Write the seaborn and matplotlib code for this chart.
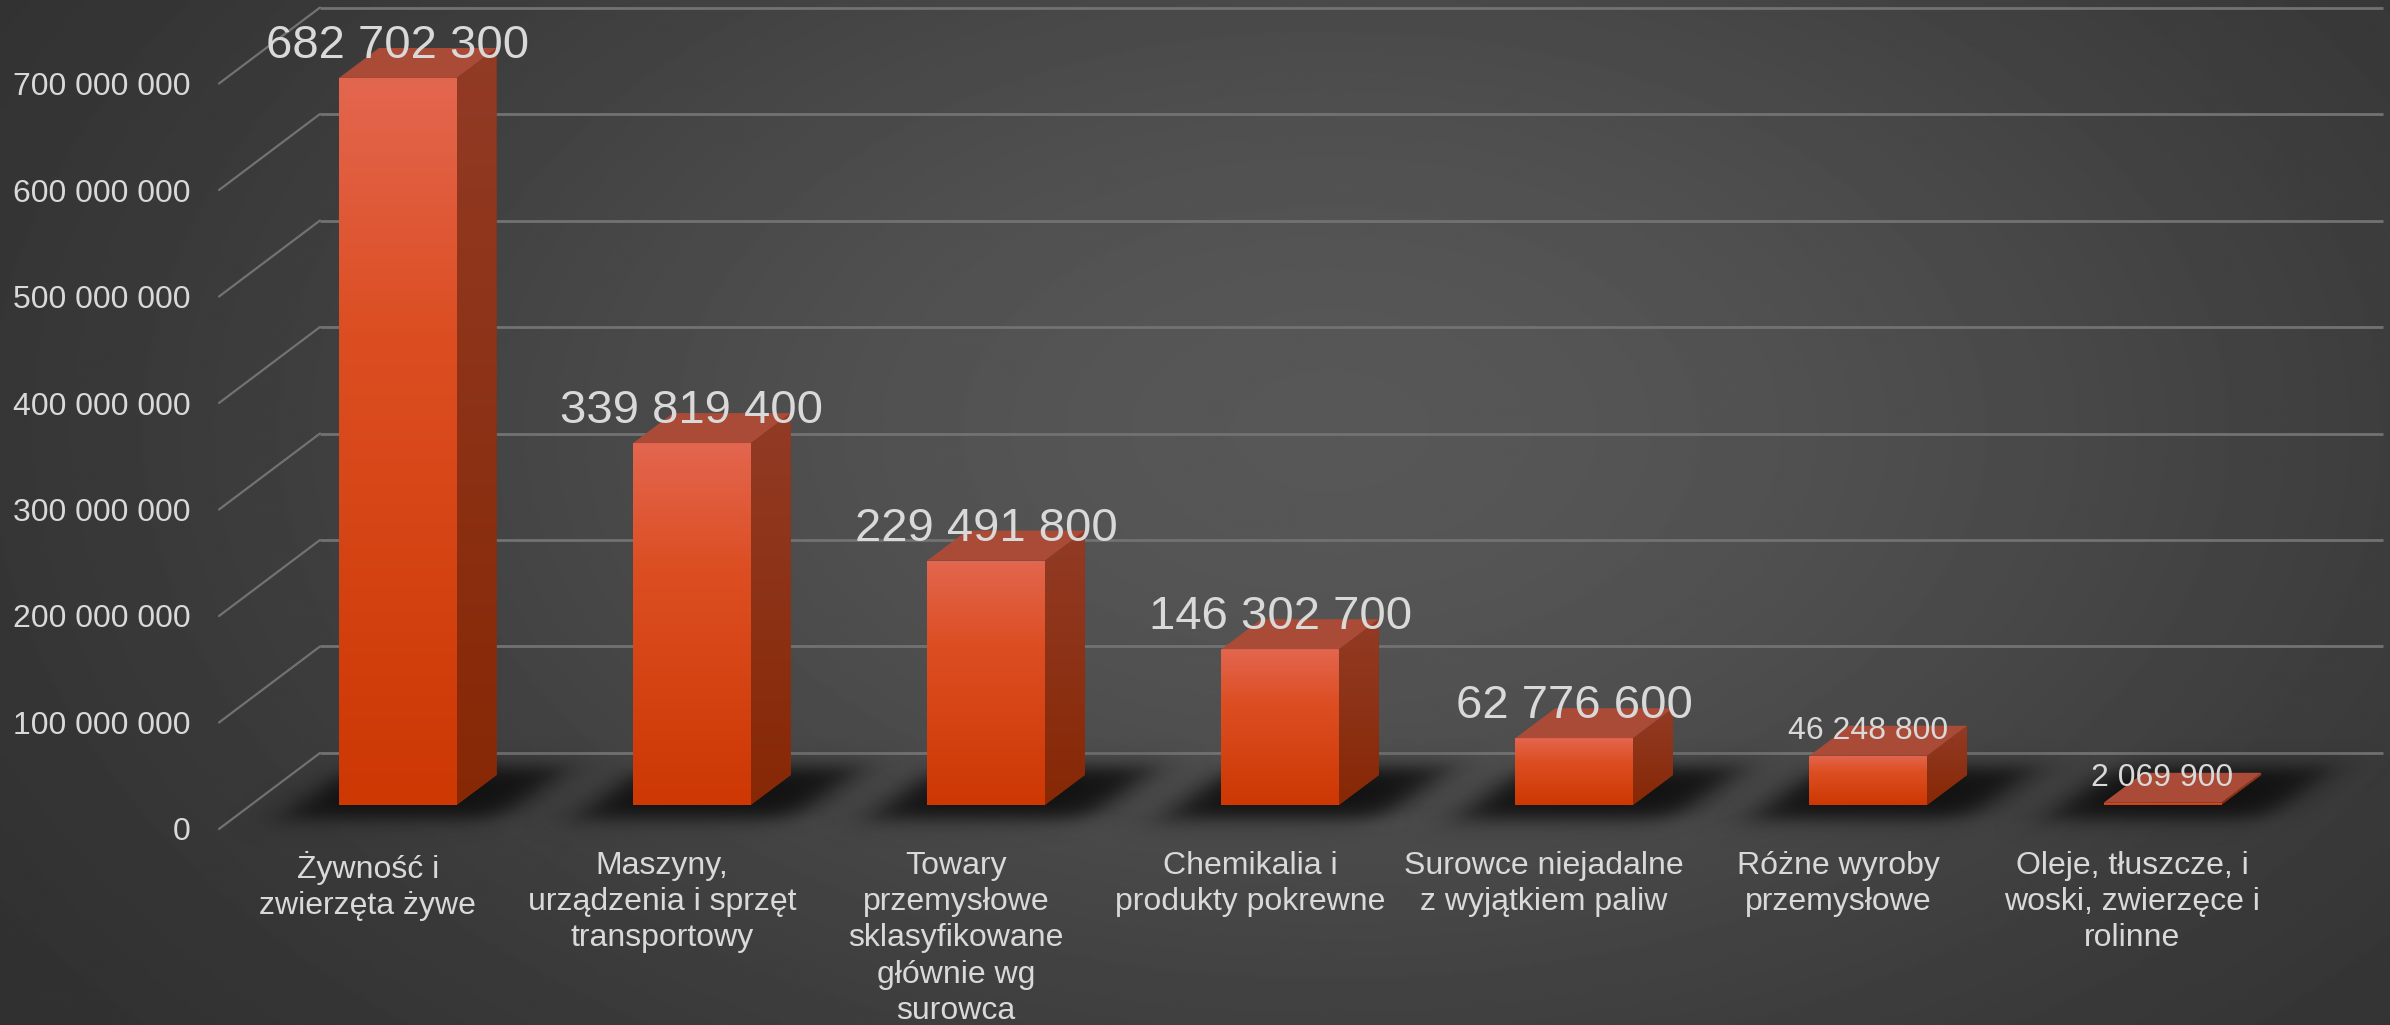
import numpy as np
import pandas as pd
import matplotlib
matplotlib.use("Agg")
import matplotlib.pyplot as plt
import seaborn as sns
from matplotlib.patches import Polygon
from matplotlib.colors import LinearSegmentedColormap

# ---------------- data ----------------
categories = [
    "Żywność i\nzwierzęta żywe",
    "Maszyny,\nurządzenia i sprzęt\ntransportowy",
    "Towary\nprzemysłowe\nsklasyfikowane\ngłównie wg\nsurowca",
    "Chemikalia i\nprodukty pokrewne",
    "Surowce niejadalne\nz wyjątkiem paliw",
    "Różne wyroby\nprzemysłowe",
    "Oleje, tłuszcze, i\nwoski, zwierzęce i\nrolinne",
]
values = [682702300, 339819400, 229491800, 146302700, 62776600, 46248800, 2069900]
tick_values = [0, 100000000, 200000000, 300000000, 400000000,
               500000000, 600000000, 700000000]

# ---------------- style ----------------
label_sizes = [34, 34, 34, 34, 34, 23, 23]
label_offsets = [20, 20, 20, 20, 20, 17, 17]
TXT = "#d9d9d9"
GRID = "#727272"


def fmt(v):
    return f"{int(v):,}".replace(",", " ")


sns.set_theme(style="white")
plt.rcParams["font.family"] = ["Liberation Sans", "DejaVu Sans"]

W, H = 2390, 1025
fig = plt.figure(figsize=(W / 100, H / 100), dpi=100)
ax = fig.add_axes([0, 0, 1, 1])

XLIM = (-1.3526, 6.774)
YLIM = (-206.6e6, 755.9e6)
px_x = W / (XLIM[1] - XLIM[0])
px_y = H / (YLIM[1] - YLIM[0])


def xd(px):
    return XLIM[0] + px / px_x


def dxd(px):
    return px / px_x


def dyd(px):
    return px / px_y


# ---------------- background (radial gradient) ----------------
yy, xx = np.mgrid[0:H:3, 0:W:3]
g = 42 + 45 * np.exp(-(((xx - 1330) / 820.0) ** 2 / 2 + ((yy - 430) / 500.0) ** 2 / 2))
ax.imshow(g / 255.0, cmap="gray", vmin=0, vmax=1,
          extent=[XLIM[0], XLIM[1], YLIM[0], YLIM[1]], origin="upper",
          aspect="auto", zorder=0, interpolation="bilinear")

# ---------------- grid (back wall + floor diagonals) ----------------
for v in tick_values:
    yb = v + dyd(52)
    yf = v - dyd(24)
    ax.plot([xd(320), xd(2383)], [yb, yb], color=GRID, lw=2.0, zorder=1,
            solid_capstyle="butt")
    ax.plot([xd(219), xd(320)], [yf, yb], color=GRID, lw=1.6, zorder=1)
    ax.text(xd(191), yf, fmt(v), ha="right", va="center_baseline",
            fontsize=23, color=TXT, zorder=5)

# ---------------- bars ----------------
df = pd.DataFrame({"kategoria": categories, "wartosc": values})
sns.barplot(data=df, x="kategoria", y="wartosc", order=categories, width=0.4,
            color="#d94515", saturation=1, errorbar=None, ax=ax,
            zorder=3, linewidth=0)
patches = list(ax.patches)[:len(values)]

front_cmap = LinearSegmentedColormap.from_list(
    "front", [(0, "#cd3803"), (0.65, "#dc4e22"), (1, "#e3664f")])
side_cmap = LinearSegmentedColormap.from_list(
    "side", [(0, "#872805"), (1, "#923b25")])
grad = np.linspace(0, 1, 256).reshape(-1, 1)

ddx = dxd(40)
ddy = dyd(30)


def soft_box(t, a, b, s):
    return 0.5 * (np.tanh((t - a) / s) - np.tanh((t - b) / s))


for p in patches:
    x0 = p.get_x()
    w = p.get_width()
    h = p.get_height()
    x1 = x0 + w
    w_px = w * px_x

    # shadow on the floor
    lx = np.arange(-110, w_px + 200, 2.0)
    ly = np.arange(-50, 90, 2.0)
    LX, LY = np.meshgrid(lx, ly)
    sx = LX - 1.33 * LY
    alpha = 0.95 * soft_box(sx, -40, w_px + 62, 24) * soft_box(LY, -14, 38, 11)
    sh = np.zeros(LX.shape + (4,))
    sh[..., :3] = 0.06
    sh[..., 3] = np.clip(alpha, 0, 1)
    ax.imshow(sh, extent=[x0 + dxd(lx[0]), x0 + dxd(lx[-1]), dyd(ly[0]), dyd(ly[-1])],
              origin="lower", aspect="auto", zorder=2, interpolation="bilinear")

    # front face gradient
    p.set_zorder(3)
    im = ax.imshow(grad, cmap=front_cmap, extent=[x0, x1, 0, max(h, 1)],
                   origin="lower", aspect="auto", zorder=3.1,
                   interpolation="bilinear")
    im.set_clip_path(p)

    # side face
    side = Polygon([(x1, 0), (x1 + ddx, ddy), (x1 + ddx, h + ddy), (x1, h)],
                   closed=True, facecolor="#8b2e0f", edgecolor="none", zorder=3)
    ax.add_patch(side)
    im2 = ax.imshow(grad, cmap=side_cmap, extent=[x1, x1 + ddx, 0, h + ddy],
                    origin="lower", aspect="auto", zorder=3.05,
                    interpolation="bilinear")
    im2.set_clip_path(side)

    # top face
    top = Polygon([(x0, h), (x0 + ddx, h + ddy), (x1 + ddx, h + ddy), (x1, h)],
                  closed=True, facecolor="#a94b37", edgecolor="none", zorder=3.2)
    ax.add_patch(top)

# ---------------- labels ----------------
for i, (p, v) in enumerate(zip(patches, values)):
    cx = p.get_x() + p.get_width() / 2
    ax.annotate(fmt(v), xy=(cx, v), xytext=(0, label_offsets[i]),
                textcoords="offset pixels", ha="center", va="baseline",
                fontsize=label_sizes[i], color=TXT, zorder=6)
    ax.annotate(categories[i], xy=(cx, 0), xytext=(-30, -46),
                textcoords="offset pixels", ha="center", va="top",
                fontsize=23, color=TXT, linespacing=1.27, zorder=6)

ax.set_xlim(*XLIM)
ax.set_ylim(*YLIM)
ax.axis("off")

fig.savefig("out.png", dpi=100)
